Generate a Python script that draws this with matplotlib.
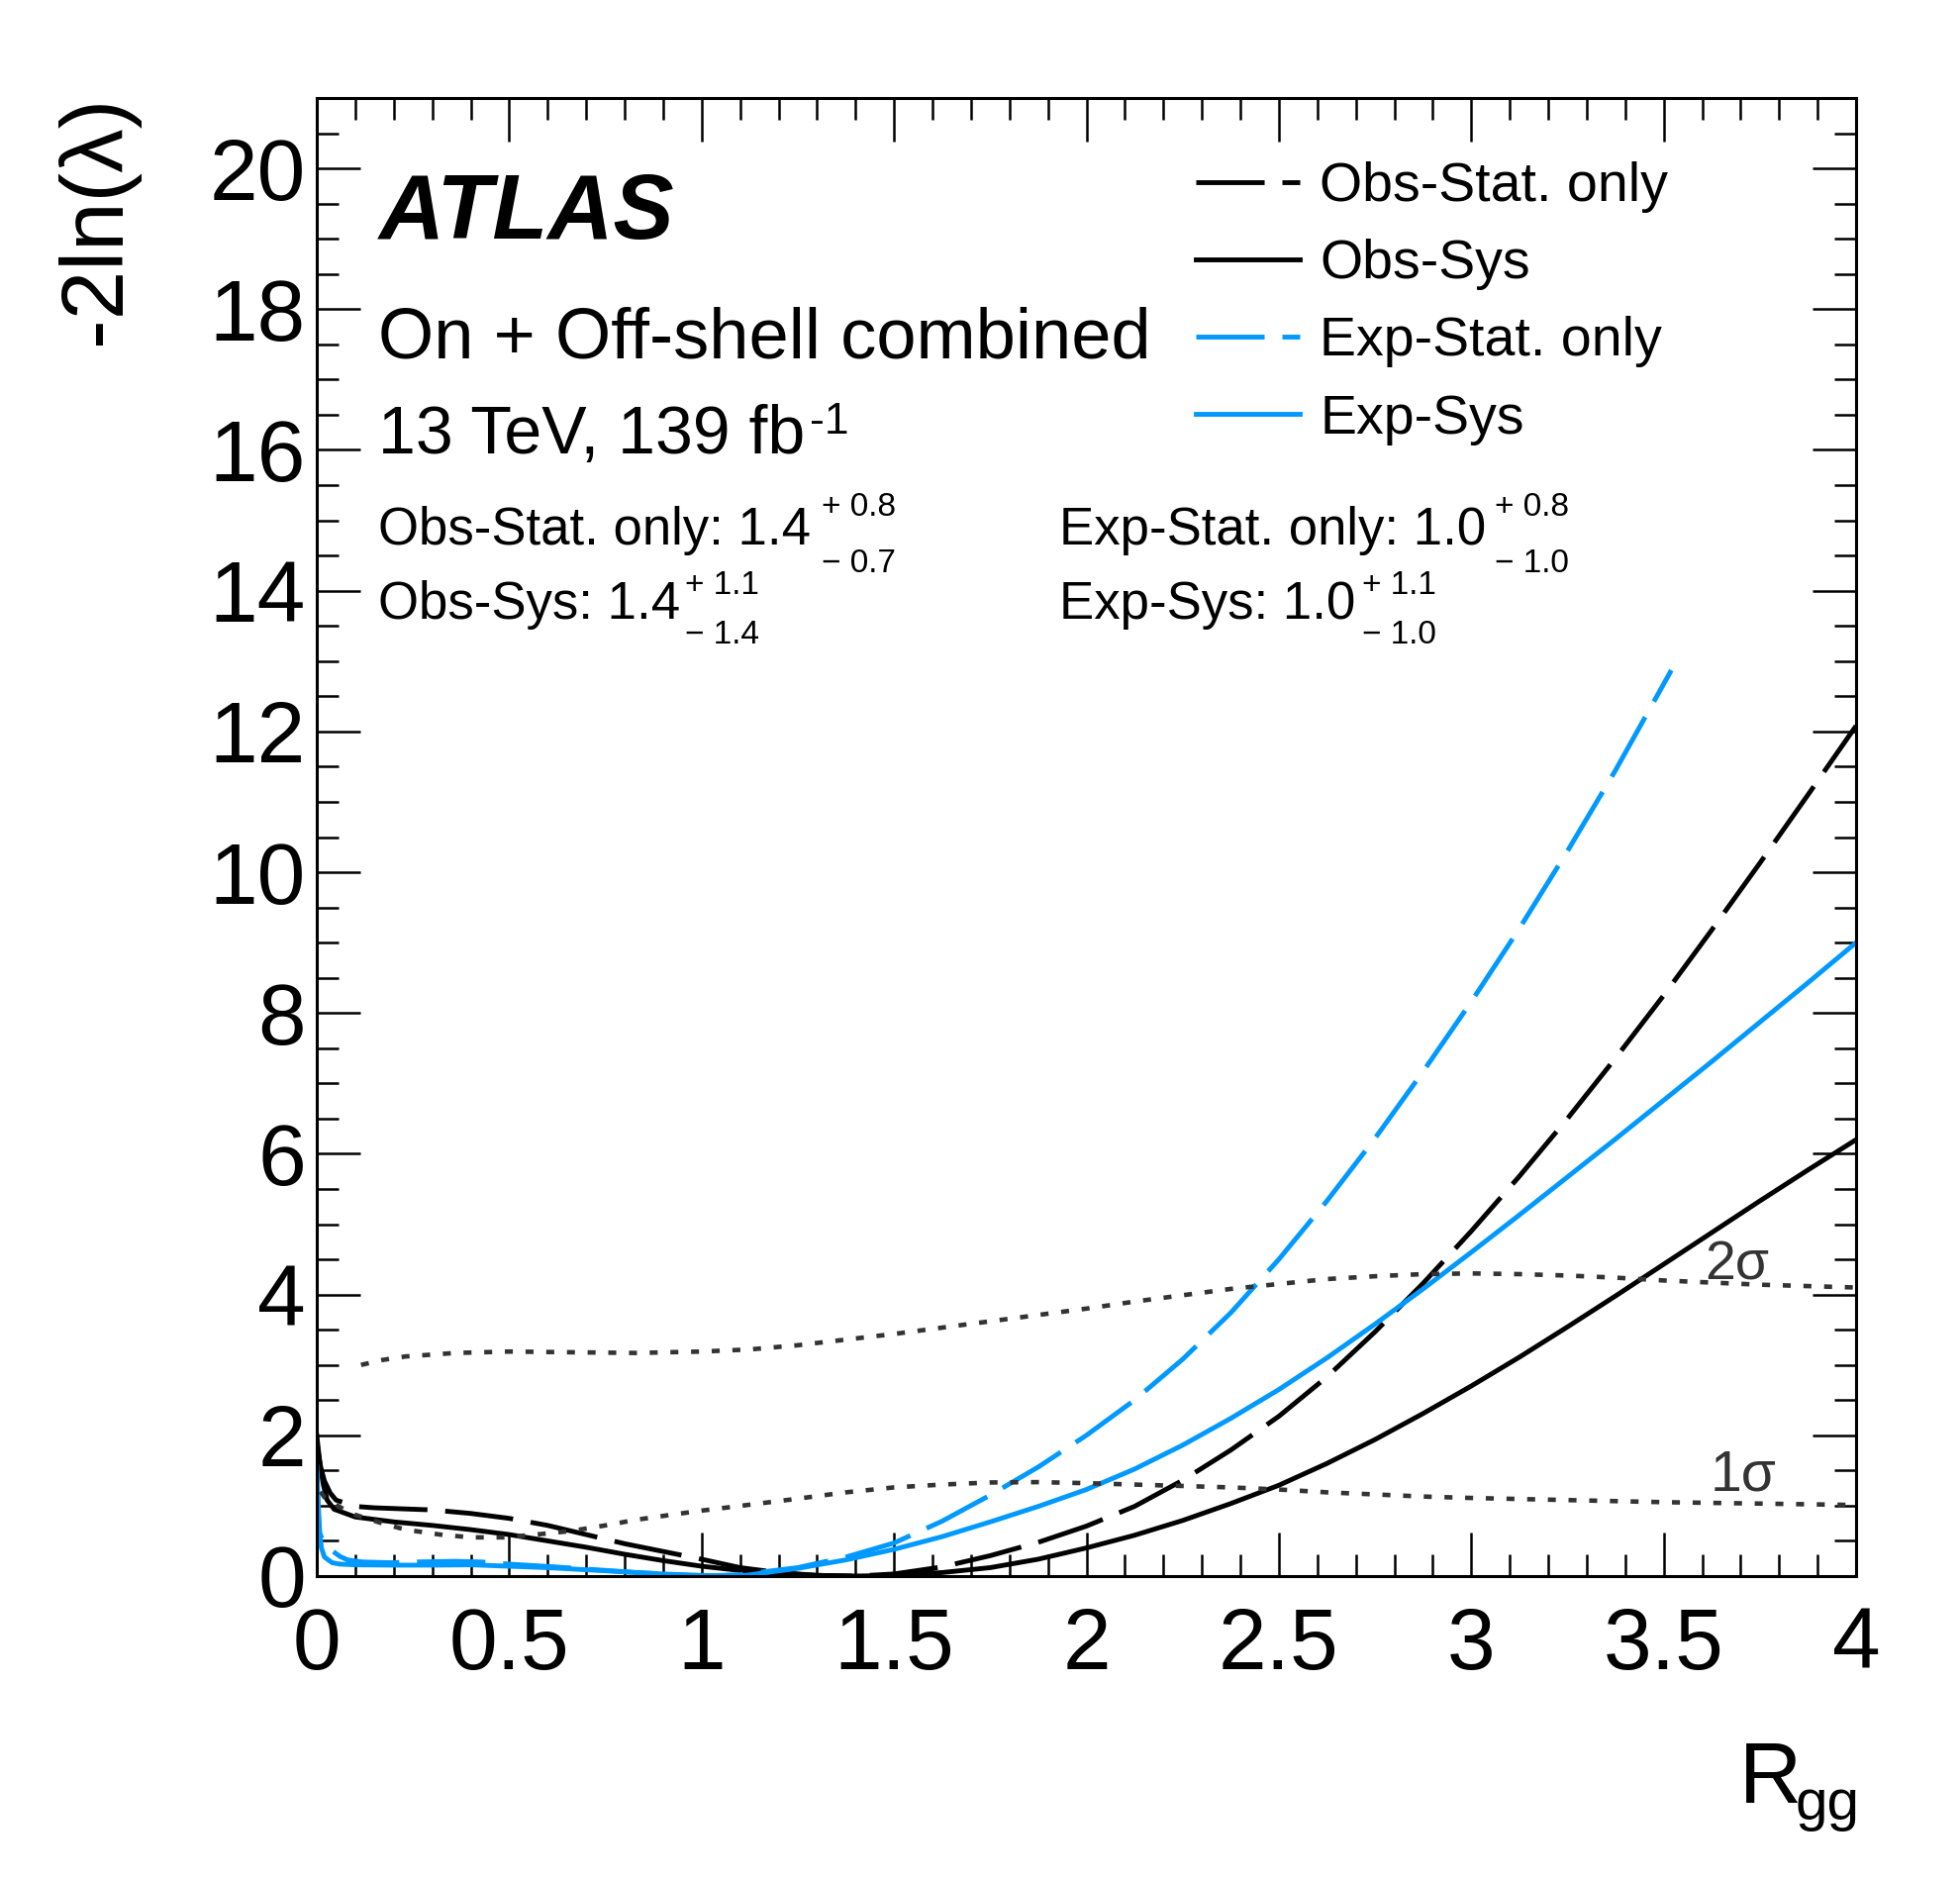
import matplotlib
matplotlib.use("Agg")
import matplotlib.pyplot as plt
from matplotlib.ticker import MultipleLocator, FuncFormatter

# ---------------- data ----------------
obs_stat_r = [0.0, 0.01, 0.02, 0.035, 0.05, 0.1, 0.15, 0.25, 0.3, 0.4, 0.5, 0.6, 0.7, 0.8, 0.9,
              1.0, 1.1, 1.2, 1.3, 1.4, 1.5, 1.625, 1.75, 1.875, 2.0, 2.125, 2.25, 2.375, 2.5,
              2.625, 2.75, 2.875, 3.0, 3.125, 3.25, 3.375, 3.5, 3.625, 3.75, 3.875, 4.0]
obs_stat_v = [1.9, 1.55, 1.35, 1.18, 1.08, 0.99, 0.97, 0.95, 0.94, 0.89, 0.82, 0.72, 0.59, 0.46, 0.35,
              0.24, 0.12, 0.05, 0.01, 0.0, 0.03, 0.13, 0.29, 0.48, 0.71, 0.99, 1.36, 1.79, 2.27,
              2.83, 3.47, 4.16, 4.9, 5.68, 6.5, 7.36, 8.25, 9.18, 10.13, 11.1, 12.08]

obs_sys_r = [0.0, 0.008, 0.017, 0.027, 0.045, 0.1, 0.2, 0.3, 0.4, 0.5, 0.6, 0.7, 0.8, 0.9, 1.0,
             1.1, 1.2, 1.3, 1.4, 1.5, 1.625, 1.75, 1.875, 2.0, 2.125, 2.25, 2.375, 2.5, 2.625,
             2.75, 2.875, 3.0, 3.125, 3.25, 3.375, 3.5, 3.625, 3.75, 3.875, 4.0]
obs_sys_v = [2.0, 1.6, 1.3, 1.08, 0.95, 0.84, 0.77, 0.72, 0.66, 0.59, 0.5, 0.41, 0.31, 0.22, 0.14,
             0.08, 0.04, 0.01, 0.0, 0.01, 0.05, 0.12, 0.24, 0.40, 0.58, 0.79, 1.03, 1.29, 1.60,
             1.94, 2.31, 2.70, 3.11, 3.54, 3.98, 4.43, 4.88, 5.33, 5.77, 6.2]

exp_stat_r = [0.0, 0.003, 0.006, 0.015, 0.025, 0.04, 0.06, 0.08, 0.12, 0.19, 0.25, 0.36, 0.43, 0.5,
              0.62, 0.7, 0.83, 1.0, 1.1, 1.25, 1.375, 1.5, 1.625, 1.75, 1.875, 2.0, 2.125, 2.25,
              2.375, 2.5, 2.625, 2.75, 2.875, 3.0, 3.125, 3.25, 3.375, 3.52]
exp_stat_v = [1.5, 1.0, 0.63, 0.52, 0.44, 0.36, 0.28, 0.23, 0.2, 0.19, 0.2, 0.21, 0.2, 0.17,
              0.13, 0.1, 0.05, 0.0, 0.02, 0.12, 0.27, 0.47, 0.78, 1.15, 1.55, 2.0, 2.5, 3.08,
              3.74, 4.5, 5.33, 6.22, 7.17, 8.16, 9.2, 10.3, 11.45, 12.87]

exp_sys_r = [0.0, 0.004, 0.008, 0.012, 0.02, 0.04, 0.06, 0.1, 0.2, 0.3, 0.4, 0.5, 0.6, 0.7, 0.8, 0.9,
             1.0, 1.1, 1.25, 1.375, 1.5, 1.625, 1.75, 1.875, 2.0, 2.125, 2.25, 2.375, 2.5, 2.625,
             2.75, 2.875, 3.0, 3.125, 3.25, 3.375, 3.5, 3.625, 3.75, 3.875, 4.0]
exp_sys_v = [1.55, 1.0, 0.6, 0.4, 0.27, 0.19, 0.17, 0.16, 0.155, 0.155, 0.16, 0.14, 0.12, 0.09, 0.06, 0.03,
             0.01, 0.0, 0.11, 0.23, 0.38, 0.56, 0.77, 0.99, 1.23, 1.52, 1.86, 2.24, 2.65, 3.1,
             3.58, 4.08, 4.6, 5.13, 5.67, 6.21, 6.76, 7.31, 7.87, 8.43, 9.0]

sig2_r = [0.115, 0.17, 0.23, 0.36, 0.5, 0.66, 0.83, 1.0, 1.125, 1.25, 1.375, 1.5, 1.625, 1.75, 1.875,
          2.0, 2.125, 2.25, 2.375, 2.5, 2.625, 2.75, 2.875, 3.0, 3.125, 3.25, 3.375, 3.5, 3.625,
          3.75, 3.875, 4.0]
sig2_v = [3.0, 3.07, 3.12, 3.17, 3.19, 3.18, 3.17, 3.19, 3.22, 3.28, 3.36, 3.44, 3.53, 3.62, 3.71,
          3.8, 3.9, 3.99, 4.08, 4.15, 4.22, 4.26, 4.29, 4.3, 4.29, 4.27, 4.24, 4.2, 4.17,
          4.14, 4.12, 4.1]

sig1_r = [0.01, 0.02, 0.06, 0.1, 0.17, 0.23, 0.32, 0.4, 0.49, 0.57, 0.66, 0.75, 0.83, 0.92, 1.0,
          1.09, 1.25, 1.375, 1.5, 1.625, 1.75, 1.875, 2.0, 2.125, 2.25, 2.375, 2.5, 2.625, 2.75,
          2.875, 3.0, 3.125, 3.25, 3.375, 3.5, 3.625, 3.75, 3.875, 4.0]
sig1_v = [1.2, 1.12, 0.98, 0.87, 0.75, 0.66, 0.59, 0.55, 0.55, 0.59, 0.64, 0.72, 0.8, 0.87, 0.93,
          0.99, 1.1, 1.19, 1.26, 1.3, 1.33, 1.335, 1.32, 1.3, 1.28, 1.26, 1.23, 1.19, 1.16,
          1.13, 1.11, 1.095, 1.08, 1.065, 1.05, 1.04, 1.03, 1.02, 1.01]

legend_labels = ["Obs-Stat. only", "Obs-Sys", "Exp-Stat. only", "Exp-Sys"]

# ---------------- style ----------------
plt.rcParams['font.family'] = ['Liberation Sans', 'DejaVu Sans']
W, H = 1980, 1900
fig = plt.figure(figsize=(W / 100, H / 100), dpi=100)
ax = fig.add_axes([320 / W, 1 - 1592 / H, 1555 / W, 1493 / H])

BLUE = '#0099ff'
LW = 3.5
DASH = (14.2, 3.7)
DOT_LW = 3.3
DOT = (1.76, 2.8)

l_os, = ax.plot(obs_stat_r, obs_stat_v, color='black', lw=LW, dashes=DASH)
l_oy, = ax.plot(obs_sys_r, obs_sys_v, color='black', lw=LW)
l_es, = ax.plot(exp_stat_r, exp_stat_v, color=BLUE, lw=LW, dashes=DASH)
l_ey, = ax.plot(exp_sys_r, exp_sys_v, color=BLUE, lw=LW)
ax.plot(sig2_r, sig2_v, color='#333333', lw=DOT_LW, dashes=DOT)
ax.plot(sig1_r, sig1_v, color='#333333', lw=DOT_LW, dashes=DOT)

ax.set_xlim(0, 4)
ax.set_ylim(0, 21)
ax.xaxis.set_major_locator(MultipleLocator(0.5))
ax.xaxis.set_minor_locator(MultipleLocator(0.1))
ax.yaxis.set_major_locator(MultipleLocator(2))
ax.yaxis.set_minor_locator(MultipleLocator(0.5))
ax.xaxis.set_major_formatter(FuncFormatter(lambda v, p: '%g' % v))
ax.yaxis.set_major_formatter(FuncFormatter(lambda v, p: '%g' % v))
ax.tick_params(which='both', direction='in', top=True, right=True, width=1.8, labelsize=63)
ax.tick_params(which='major', length=32)
ax.tick_params(which='minor', length=16)
ax.tick_params(axis='x', which='major', pad=22)
ax.tick_params(axis='y', which='major', pad=8)
for s in ax.spines.values():
    s.set_linewidth(2.2)

# legend
ax.legend([l_os, l_oy, l_es, l_ey], legend_labels, loc='upper left',
          bbox_to_anchor=(0.5711, 0.957), frameon=False, fontsize=40,
          handlelength=1.89, handletextpad=0.36, labelspacing=0.47,
          borderpad=0, borderaxespad=0)

# sigma labels
ax.text(3.607, 4.21, '2σ', fontsize=40, color='#333333', ha='left', va='baseline')
ax.text(3.62, 1.22, '1σ', fontsize=41, color='#333333', ha='left', va='baseline')


def ftext(x, y, s, size, **kw):
    kw.setdefault('ha', 'left')
    kw.setdefault('va', 'baseline')
    fig.text(x / W, 1 - y / H, s, fontsize=size, **kw)


ftext(383, 241, 'ATLAS', 66, fontweight='bold', fontstyle='italic')
ftext(382, 362, 'On + Off-shell combined', 52)
ftext(382, 458, '13 TeV, 139 fb', 49)
ftext(818, 438, '-1', 32)

ftext(382, 550, 'Obs-Stat. only: 1.4', 38)
ftext(830, 521, '+ 0.8', 24)
ftext(830, 578, '\u2212 0.7', 24)
ftext(382, 625, 'Obs-Sys: 1.4', 38)
ftext(692, 600, '+ 1.1', 24)
ftext(692, 650, '\u2212 1.4', 24)

ftext(1070, 550, 'Exp-Stat. only: 1.0', 38)
ftext(1510, 521, '+ 0.8', 24)
ftext(1510, 578, '\u2212 1.0', 24)
ftext(1070, 625, 'Exp-Sys: 1.0', 38)
ftext(1376, 600, '+ 1.1', 24)
ftext(1376, 650, '\u2212 1.0', 24)

# axis titles
ftext(98, 96, '-2ln(\u03bb)', 64, rotation=90, ha='center', va='top')
ftext(1757, 1821, 'R', 63)
ftext(1813, 1838, 'gg', 42)

fig.savefig('out.png', dpi=100)
